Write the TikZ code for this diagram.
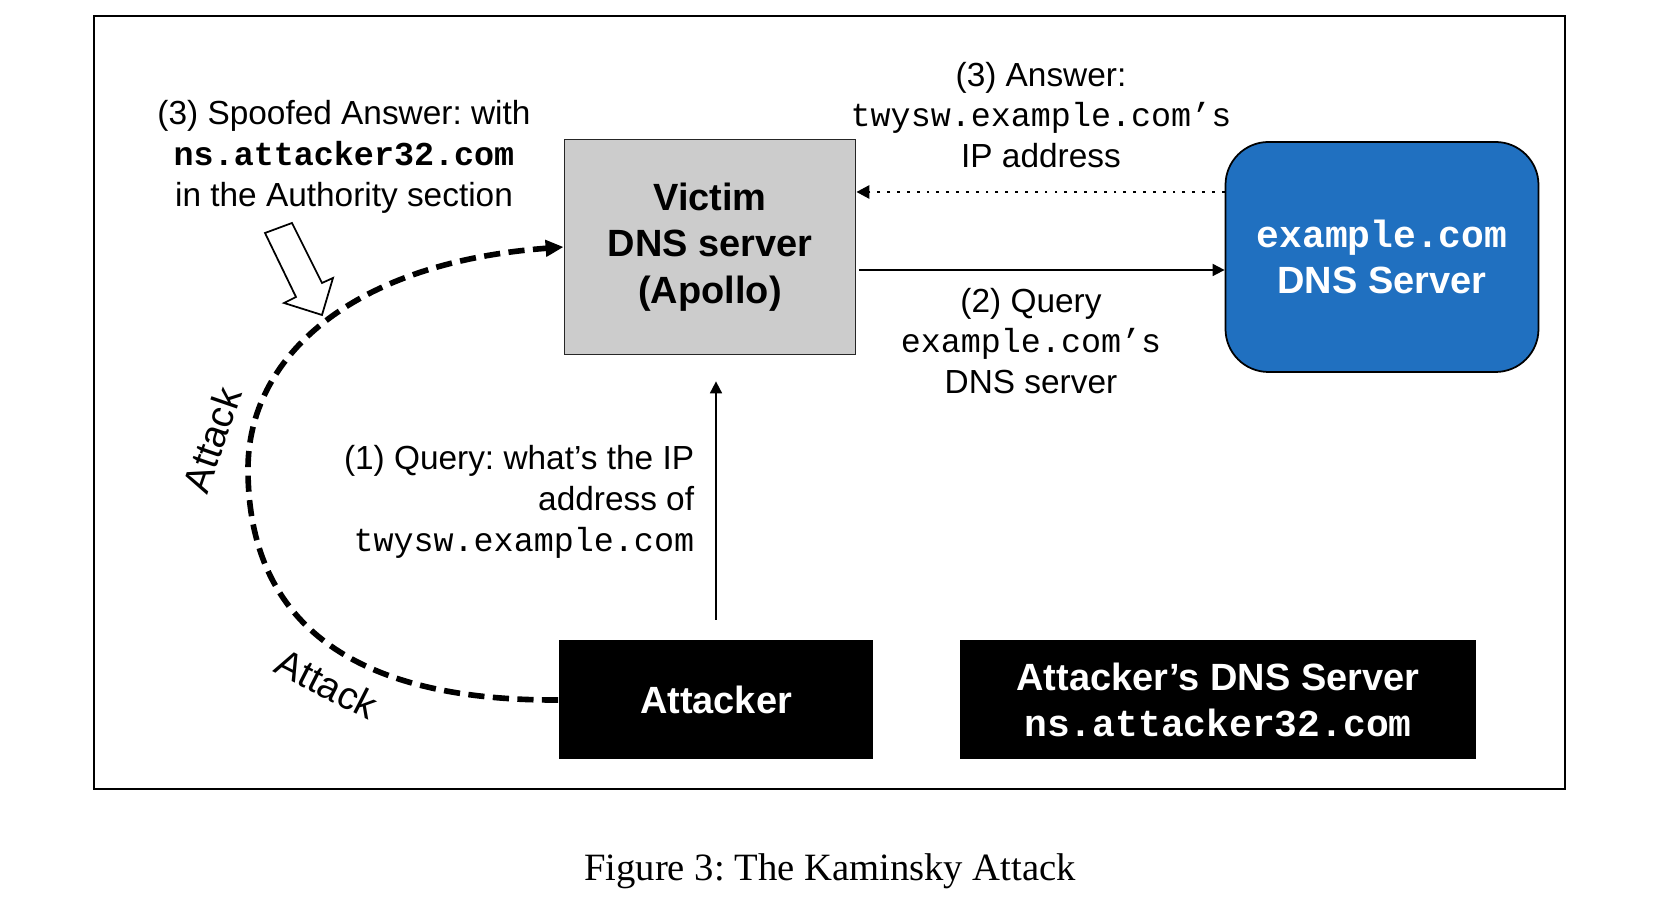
\documentclass[tikz,border=0pt]{standalone}
\usepackage{fontspec}
\setmainfont{Liberation Sans}
\setmonofont{Liberation Mono}
\newfontfamily\capfont{Liberation Serif}
\usetikzlibrary{arrows.meta}
\definecolor{exblue}{RGB}{32,112,192}
\frenchspacing
\begin{document}
\begin{tikzpicture}[x=1cm,y=1cm,line width=.5pt,font=\fontsize{9.5}{11.6}\selectfont,
  lbl/.style={align=center,inner sep=0pt},
  boxtext/.style={font=\fontsize{10.8}{13.2}\selectfont\bfseries,align=center},
  vbox/.style={boxtext,draw=black!85,fill=black!20,minimum width=2.91cm,minimum height=2.15cm},
  exbox/.style={boxtext,draw=black,fill=exblue,text=white,rounded corners=4.3mm,minimum width=3.13cm,minimum height=2.30cm},
  atbox/.style={boxtext,fill=black,text=white,minimum height=1.19cm},
  query/.style={-{Triangle[length=1.2mm,width=1.2mm]}},
  answer/.style={dotted,line width=.8pt,-{Triangle[length=1.3mm,width=1.3mm]}},
  attack/.style={line width=1.6pt,dash pattern=on 4.6pt off 2.4pt,-{Triangle[length=1.8mm,width=1.6mm]}},
  atklbl/.style={font=\fontsize{11}{13}\selectfont,inner sep=0pt}]
\useasboundingbox (0,0) rectangle (16.70,8.98);
\draw (0.94,1.09) rectangle (15.65,8.82);
\node[vbox] (vic) at (7.10,6.51) {Victim\\DNS server\\(Apollo)};
\node[exbox] (ex) at (13.82,6.41) {\texttt{example.com}\\DNS Server};
\node[atbox,minimum width=3.14cm] (att) at (7.16,1.98) {Attacker};
\node[atbox,minimum width=5.16cm] (ns) at (12.18,1.98) {Attacker’s DNS Server\\\texttt{ns.attacker32.com}};
\node[lbl] (spoof) at (3.44,7.41) {(3) Spoofed Answer: with\\\textbf{\texttt{ns.attacker32.com}}\\in the Authority section};
\node[lbl] (ans) at (10.41,7.83) {(3) Answer:\\\texttt{twysw.example.com’s}\\IP address};
\node[lbl] (qry) at (10.31,5.57) {(2) Query\\\texttt{example.com’s}\\DNS server};
\node[lbl,anchor=east,align=right] (ask) at (6.95,3.96) {(1) Query: what’s the IP\\address of\\\texttt{twysw.example.com}};
\node[atklbl,rotate=71] (atk) at (2.12,4.58) {Attack};\node[atklbl,rotate=-27] (atkb) at (3.27,2.14) {Attack};
\draw[answer] (ex.west|-0,7.06) -- (vic.east|-0,7.06);
\draw[query] ([xshift=.3mm]vic.east|-0,6.28) -- (ex.west|-0,6.28);
\draw[query] ([yshift=2mm]att.north) -- ([yshift=-2.6mm]vic.south-|att.north);
\draw[attack] (att.west) .. controls (3.6,1.97) and (2.48,2.7) .. (2.48,4.29) .. controls (2.48,5.4) and (3.5,6.35) .. (vic.west);
\draw[fill=white] (2.65,6.65)--(2.92,6.75)--(3.22,6.15)--(3.33,6.20)--(3.22,5.83)--(2.84,5.95)--(2.96,6.01)--cycle;
\node[font=\capfont\fontsize{11}{13}\selectfont] (cap) at (8.30,0.27) {Figure 3: The Kaminsky Attack};
\end{tikzpicture}
\end{document}
